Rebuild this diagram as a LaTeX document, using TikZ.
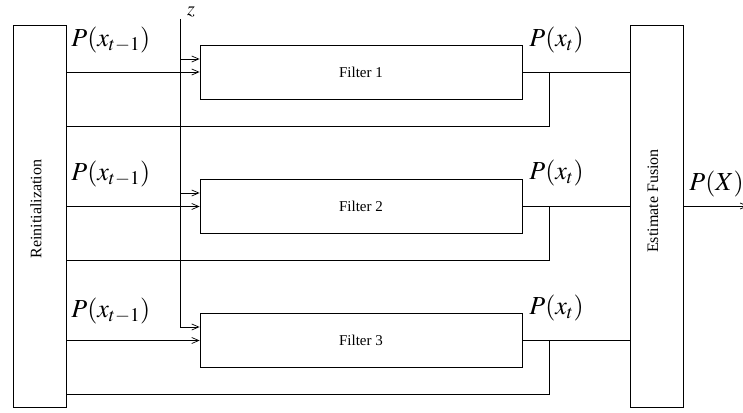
\documentclass[tikz,border=0pt]{standalone}
\usepackage{mathptmx}
\usepackage[no-math]{fontspec}
\setmainfont{Liberation Serif}
\usetikzlibrary{arrows.meta}
\begin{document}
\begin{tikzpicture}[x=1pt,y=-1pt,line width=0.8pt,
  arr/.style={-{Straight Barb[length=7pt,width=6pt,line width=0.7pt]}},
  tallbox/.style={draw,inner sep=0pt,minimum width=53pt,minimum height=382pt},
  filterbox/.style={draw,inner sep=0pt,minimum width=322pt,minimum height=54pt,font=\fontsize{15}{18}\selectfont},
  vlabel/.style={rotate=90,inner sep=0pt,font=\fontsize{16}{19}\selectfont},
  mlabel/.style={inner sep=0pt,anchor=west,font=\fontsize{26}{30}\selectfont}]
\useasboundingbox (0,0) rectangle (743,412);
% boxes
\node[tallbox] (re) at (39.5,216) {};
\node[vlabel] (reT) at (36,209) {Reinitialization};
\node[tallbox] (fu) at (657,216) {};
\node[vlabel] (fuT) at (653,201) {Estimate Fusion};
\node[filterbox] (f1) at (361,72) {Filter 1};
\node[filterbox] (f2) at (361,206.5) {Filter 2};
\node[filterbox] (f3) at (361,340.5) {Filter 3};
% z input
\coordinate (ztop) at (180,19);
\node[inner sep=0pt,font=\fontsize{20}{24}\selectfont] (zl) at (191,11.5) {$z$};
\coordinate (a1) at ([yshift=13pt]f1.west);
\coordinate (a2) at ([yshift=13.5pt]f2.west);
\coordinate (a3) at ([yshift=13.5pt]f3.west);
\draw[arr] (ztop) |- (a3);
\draw[arr] (ztop |- a1) -- (a1);
\draw[arr] (ztop |- a2) -- (a2);
% inputs from reinitialization
\draw[arr] (re.east |- f1.west) -- (f1.west);
\draw[arr] (re.east |- f2.west) -- (f2.west);
\draw[arr] (re.east |- f3.west) -- (f3.west);
% outputs to fusion
\draw (f1.east) -- (fu.west |- f1.east);
\draw (f2.east) -- (fu.west |- f2.east);
\draw (f3.east) -- (fu.west |- f3.east);
% feedback
\coordinate (b1) at (549,126);
\coordinate (b2) at (549,260);
\coordinate (b3) at (549,394);
\draw (f1.east -| b1) |- (re.east |- b1);
\draw (f2.east -| b2) |- (re.east |- b2);
\draw (f3.east -| b3) |- (re.east |- b3);
% final output
\coordinate (out) at (748,206);
\draw[arr] (fu.east |- out) -- (out);
% labels
\node[mlabel] (p1) at (71,40) {$P(x_{t-1})$};
\node[mlabel] (p2) at (71,174) {$P(x_{t-1})$};
\node[mlabel] (p3) at (71,311) {$P(x_{t-1})$};
\node[mlabel] (q1) at (529,40) {$P(x_{t})$};
\node[mlabel] (q2) at (529,173) {$P(x_{t})$};
\node[mlabel] (q3) at (529,308) {$P(x_{t})$};
\node[mlabel] (px) at (689,184) {$P(X)$};
\end{tikzpicture}
\end{document}
